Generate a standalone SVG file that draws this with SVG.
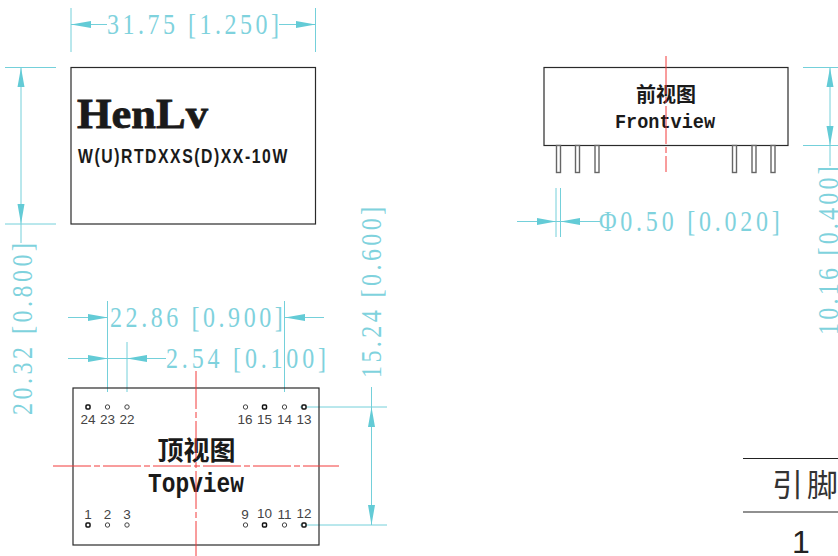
<svg xmlns="http://www.w3.org/2000/svg" width="838" height="556" viewBox="0 0 838 556">
<style>
.bg{fill:#fff}
.dim{stroke:#74d0da;stroke-width:1;fill:none}
.dimt{fill:#7fd2dd;font-family:"Liberation Serif",serif;font-size:30px}
.ah{fill:#63cbd6;stroke:none}
.box{fill:none;stroke:#2a2a2a;stroke-width:1.2}
.pin{fill:#fff;stroke:#444;stroke-width:1}
.pins{fill:#fff;stroke:#111;stroke-width:1.5}
.pl{fill:#444;font-family:"Liberation Sans",sans-serif;font-size:13.500px;text-anchor:middle}
.red{stroke:#f23a3a;stroke-width:1;fill:none;stroke-dasharray:38 3 6 3}
.cn{fill:#1a1a1a;font-family:"Noto Sans CJK SC",sans-serif;font-weight:700;text-anchor:middle}
.en{fill:#1a1a1a;font-family:"Liberation Mono",monospace;font-weight:700}
.lead{stroke:#666;stroke-width:1.4;fill:#fff}
.tb{stroke:#222;stroke-width:1.2}
</style>
<rect class="bg" width="838" height="556"/>
<g id="connectors">
<path class="dim" d="M71 8V52M315.500 8V52M71 24.500H107M279 24.500H316"/>
<path class="ah" d="M71 24.500L91 21V28ZM315.500 24.500L296 21V28Z"/>
<path class="dim" d="M5 67.500H56M5 224H56M21 67V243"/>
<path class="ah" d="M21 67.500L17.500 87H24.500ZM21 224L17.500 204H24.500Z"/>
<path class="dim" d="M107.500 301V392M284.500 301V392M68 317.500H108M324 317.500H285"/>
<path class="ah" d="M108 317.500L88 314V321ZM285 317.500L305 314V321Z"/>
<path class="dim" d="M127 342V392M68 358.500H166"/>
<path class="ah" d="M108 358.500L88 355V362ZM127 358.500L147 355V362Z"/>
<path class="dim" d="M300 407H387M300 525H387M371.500 387V525"/>
<path class="ah" d="M371.500 407L368 427H375ZM371.500 525L368 505H375Z"/>
<path class="dim" d="M556 188V237M560.500 188V237M517 221.500H600"/>
<path class="ah" d="M556 221.500L537 218V225ZM560.500 221.500L580 218V225Z"/>
<path class="dim" d="M803 67.500H838M803 145.500H838M830 67V166"/>
<path class="ah" d="M830 67.500L826.500 87H833.500ZM830 145.500L826.500 126H833.500Z"/>
</g>
<g id="dim-labels">
<text class="dimt" transform="translate(107 34) scale(.8 1)" textLength="215" lengthAdjust="spacing">31.75 [1.250]</text>
<text class="dimt" transform="translate(32 415) rotate(-90) scale(.8 1)" textLength="215" lengthAdjust="spacing">20.32 [0.800]</text>
<text class="dimt" transform="translate(110 327) scale(.8 1)" textLength="216" lengthAdjust="spacing">22.86 [0.900]</text>
<text class="dimt" transform="translate(166 368) scale(.8 1)" textLength="200" lengthAdjust="spacing">2.54 [0.100]</text>
<text class="dimt" transform="translate(381 378) rotate(-90) scale(.8 1)" textLength="214" lengthAdjust="spacing">15.24 [0.600]</text>
<text class="dimt" transform="translate(599 231) scale(.8 1)" textLength="226" lengthAdjust="spacing">Φ0.50 [0.020]</text>
<text class="dimt" transform="translate(838 335) rotate(-90) scale(.8 1)" textLength="211" lengthAdjust="spacing">10.16 [0.400]</text>
</g>
<g id="label-view">
<rect class="box" x="71" y="67.500" width="244.500" height="156.500"/>
<text x="77" y="128" font-family="'Liberation Serif',serif" font-weight="700" font-size="43" fill="#1a1a1a" stroke="#1a1a1a" stroke-width=".8" textLength="131" lengthAdjust="spacingAndGlyphs">HenLv</text>
<text transform="translate(78 163) scale(.75 1)" font-family="'Liberation Sans',sans-serif" font-weight="700" font-size="21" fill="#1a1a1a" textLength="279" lengthAdjust="spacing">W(U)RTDXXS(D)XX-10W</text>
</g>
<g id="top-view">
<rect class="box" x="73" y="388" width="246" height="157"/>
<text class="cn" x="196.500" y="460" font-size="26">顶视图</text>
<text class="en" x="148" y="492" font-size="27" textLength="96" lengthAdjust="spacingAndGlyphs">Topview</text>
<path class="red" d="M196 371V556"/>
<path class="red" d="M53 466H339"/>
<rect class="pins" x="86" y="405" width="4" height="4" rx="1"/><circle class="pin" cx="107.500" cy="407" r="2.200"/><circle class="pin" cx="127" cy="407" r="2.200"/>
<circle class="pin" cx="245.500" cy="407" r="2.200"/><rect class="pins" x="262.500" y="405" width="4" height="4" rx="1"/><circle class="pin" cx="284.500" cy="407" r="2.200"/><rect class="pins" x="302" y="405" width="4" height="4" rx="1"/>
<rect class="pins" x="86" y="523" width="4" height="4" rx="1"/><circle class="pin" cx="107.500" cy="525" r="2.200"/><circle class="pin" cx="127" cy="525" r="2.200"/>
<circle class="pin" cx="245.500" cy="525" r="2.200"/><rect class="pins" x="262.500" y="523" width="4" height="4" rx="1"/><circle class="pin" cx="284.500" cy="525" r="2.200"/><rect class="pins" x="302" y="523" width="4" height="4" rx="1"/>
<text class="pl" x="88" y="424">24</text><text class="pl" x="107.500" y="424">23</text><text class="pl" x="127" y="424">22</text>
<text class="pl" x="245" y="424">16</text><text class="pl" x="264.500" y="424">15</text><text class="pl" x="284.500" y="424">14</text><text class="pl" x="304" y="424">13</text>
<text class="pl" x="88" y="519">1</text><text class="pl" x="107.500" y="519">2</text><text class="pl" x="127" y="519">3</text>
<text class="pl" x="245" y="519">9</text><text class="pl" x="264.500" y="518">10</text><text class="pl" x="284.500" y="519">11</text><text class="pl" x="304" y="518">12</text>
</g>
<g id="front-view">
<rect class="box" x="544" y="67.500" width="244" height="78"/>
<text class="cn" x="666" y="102" font-size="20">前视图</text>
<text class="en" x="615" y="128" font-size="21" textLength="100" lengthAdjust="spacingAndGlyphs">Frontview</text>
<path class="red" d="M666 56V172"/>
<rect class="lead" x="556.500" y="145.500" width="4" height="27"/><rect class="lead" x="575.500" y="145.500" width="4" height="27"/><rect class="lead" x="595" y="145.500" width="4" height="27"/>
<rect class="lead" x="732.500" y="145.500" width="4" height="27"/><rect class="lead" x="752" y="145.500" width="4" height="27"/><rect class="lead" x="771" y="145.500" width="4" height="27"/>
</g>
<g id="pin-table">
<path class="tb" d="M743 458.500H838M743 512H838"/>
<text x="772" y="496" font-family="'Noto Sans CJK SC',sans-serif" font-size="31" fill="#333" textLength="66" lengthAdjust="spacing">引脚</text>
<text x="801" y="553" font-family="'Liberation Sans',sans-serif" font-size="32" fill="#222" text-anchor="middle">1</text>
</g>
</svg>
